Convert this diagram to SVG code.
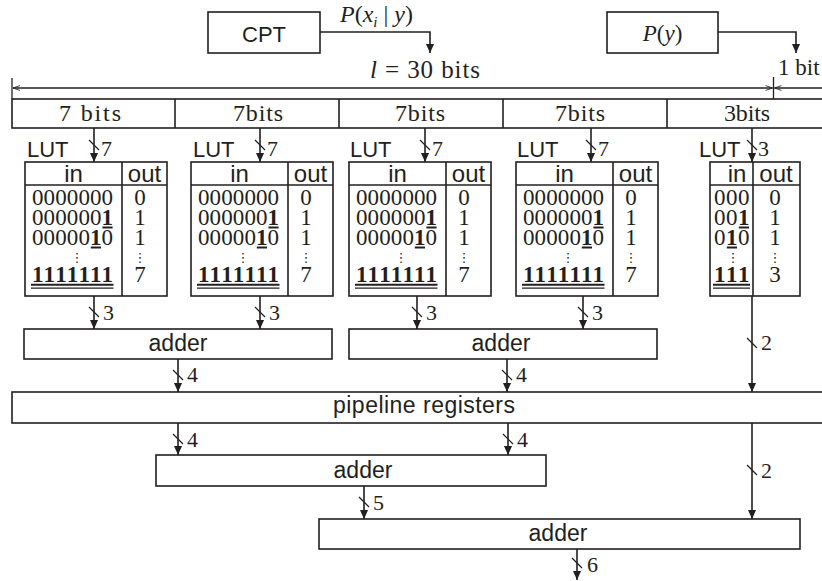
<svg xmlns="http://www.w3.org/2000/svg" xmlns:xlink="http://www.w3.org/1999/xlink" width="822" height="581" viewBox="0 0 822 581">
  <style>
    .bx { fill: #fff; stroke: #231f20; stroke-width: 1.6; }
    .ln { fill: none; stroke: #231f20; stroke-width: 1.6; }
    .thin { fill: none; stroke: #231f20; stroke-width: 1.2; }
    .tick { fill: none; stroke: #231f20; stroke-width: 1.3; }
    .sans { font-family: "Liberation Sans", Arial, Helvetica, sans-serif; fill: #231f20; }
    .serif { font-family: "Liberation Serif", "Times New Roman", serif; fill: #231f20; }
    .mid { text-anchor: middle; }
    .hd { font-size: 24px; }
    .dg { font-size: 23px; }
    .lbl { font-size: 22px; }
    .dots { font-family: "DejaVu Sans", sans-serif; font-size: 13px; fill: #231f20; text-anchor: middle; }
    .ul { stroke: #231f20; stroke-width: 2; }
    .ul2 { stroke: #231f20; stroke-width: 1.2; }
  </style>
  <defs>
    <marker id="arr" viewBox="0 0 10 10" refX="10" refY="5" markerWidth="10" markerHeight="9" markerUnits="userSpaceOnUse" orient="auto">
      <path d="M0,0.5 L10,5 L0,9.5 z" fill="#231f20"/>
    </marker>
    <marker id="open" viewBox="0 0 10 10" refX="10" refY="5" markerWidth="9" markerHeight="7" markerUnits="userSpaceOnUse" orient="auto-start-reverse">
      <path d="M0,1.5 L10,5 L0,8.5" fill="none" stroke="#231f20" stroke-width="1.2"/>
    </marker>

    <!-- 7-bit popcount table: in / out columns -->
    <g id="lut7">
      <rect class="bx" x="0" y="0" width="142" height="134"/>
      <line class="ln" x1="0" y1="23" x2="142" y2="23"/>
      <line class="ln" x1="97" y1="0" x2="97" y2="134"/>
      <text class="sans hd mid" x="48.5" y="20">in</text>
      <text class="sans hd mid" x="119.5" y="20">out</text>
      <text class="serif dg" x="7 18.6 30.2 41.8 53.4 65 76.6" y="43">0000000</text>
      <text class="serif dg" x="7 18.6 30.2 41.8 53.4 65 76.6" y="63">000000<tspan font-weight="bold">1</tspan></text>
      <line class="ul" x1="77.4" y1="65.5" x2="87.6" y2="65.5"/>
      <text class="serif dg" x="7 18.6 30.2 41.8 53.4 65 76.6" y="83">00000<tspan font-weight="bold">1</tspan>0</text>
      <line class="ul" x1="65.8" y1="85.5" x2="76" y2="85.5"/>
      <text class="dots" x="52" y="100">⋮</text>
      <text class="serif dg" font-weight="bold" x="7 18.6 30.2 41.8 53.4 65 76.6" y="120">1111111</text>
      <line class="ul" x1="6" y1="122.8" x2="88.5" y2="122.8"/>
      <line class="ul2" x1="6" y1="126.2" x2="88.5" y2="126.2"/>
      <text class="serif dg mid" x="115" y="43">0</text>
      <text class="serif dg mid" x="115" y="63">1</text>
      <text class="serif dg mid" x="115" y="83">1</text>
      <text class="dots" x="115" y="100">⋮</text>
      <text class="serif dg mid" x="115" y="120">7</text>
    </g>
  </defs>

  <rect width="822" height="581" fill="#fff"/>

  <!-- sources -->
  <g id="cpt">
    <rect class="bx" x="208" y="12" width="112" height="41"/>
    <text class="sans mid" font-size="22" x="264" y="42">CPT</text>
  </g>
  <g id="py">
    <rect class="bx" x="607" y="12" width="111" height="41"/>
    <text class="serif mid" font-size="23" x="662.5" y="41"><tspan font-style="italic">P</tspan>(<tspan font-style="italic">y</tspan>)</text>
  </g>

  <!-- word layout -->
  <g id="word">
    <rect class="bx" x="12" y="99" width="820" height="29"/>
    <line class="ln" x1="175" y1="99" x2="175" y2="128"/>
    <line class="ln" x1="339" y1="99" x2="339" y2="128"/>
    <line class="ln" x1="503" y1="99" x2="503" y2="128"/>
    <line class="ln" x1="667" y1="99" x2="667" y2="128"/>
    <text class="serif mid" font-size="24" x="90" y="121" textLength="62">7 bits</text>
    <text class="serif mid" font-size="24" x="258" y="121" textLength="50">7bits</text>
    <text class="serif mid" font-size="24" x="420" y="121" textLength="50">7bits</text>
    <text class="serif mid" font-size="24" x="580" y="121" textLength="50">7bits</text>
    <text class="serif mid" font-size="24" x="747" y="121" textLength="46">3bits</text>
  </g>

  <!-- lookup tables -->
  <g id="lut1">
    <text class="sans" font-size="22" x="27" y="157">LUT</text>
    <use xlink:href="#lut7" href="#lut7" x="25" y="162"/>
  </g>
  <g id="lut2">
    <text class="sans" font-size="22" x="193" y="157">LUT</text>
    <use xlink:href="#lut7" href="#lut7" x="191" y="162"/>
  </g>
  <g id="lut3">
    <text class="sans" font-size="22" x="350" y="157">LUT</text>
    <use xlink:href="#lut7" href="#lut7" x="349" y="162"/>
  </g>
  <g id="lut4">
    <text class="sans" font-size="22" x="517" y="157">LUT</text>
    <use xlink:href="#lut7" href="#lut7" x="516" y="162"/>
  </g>
  <g id="lut5" transform="translate(710,162)">
    <text class="sans" font-size="22" x="-11" y="-5">LUT</text>
    <rect class="bx" x="0" y="0" width="90" height="134"/>
    <line class="ln" x1="0" y1="23" x2="90" y2="23"/>
    <line class="ln" x1="43" y1="0" x2="43" y2="134"/>
    <text class="sans hd mid" x="27" y="20">in</text>
    <text class="sans hd mid" x="66" y="20">out</text>
    <text class="serif dg" x="4 16 28" y="43">000</text>
    <text class="serif dg" x="4 16 28" y="63">00<tspan font-weight="bold">1</tspan></text>
    <line class="ul" x1="28.8" y1="65.5" x2="39" y2="65.5"/>
    <text class="serif dg" x="4 16 28" y="83">0<tspan font-weight="bold">1</tspan>0</text>
    <line class="ul" x1="16.8" y1="85.5" x2="27" y2="85.5"/>
    <text class="dots" x="23" y="100">⋮</text>
    <text class="serif dg" font-weight="bold" x="4 16 28" y="120">111</text>
    <line class="ul" x1="3" y1="122.8" x2="40" y2="122.8"/>
    <line class="ul2" x1="3" y1="126.2" x2="40" y2="126.2"/>
    <text class="serif dg mid" x="65" y="43">0</text>
    <text class="serif dg mid" x="65" y="63">1</text>
    <text class="serif dg mid" x="65" y="83">1</text>
    <text class="dots" x="65" y="100">⋮</text>
    <text class="serif dg mid" x="65" y="120">3</text>
  </g>

  <!-- adders and register stage -->
  <g id="adder1">
    <rect class="bx" x="24" y="329" width="308" height="30"/>
    <text class="sans mid" font-size="23" x="178" y="351">adder</text>
  </g>
  <g id="adder2">
    <rect class="bx" x="349" y="329" width="308" height="30"/>
    <text class="sans mid" font-size="23" x="501" y="351">adder</text>
  </g>
  <g id="pipeline">
    <rect class="bx" x="12" y="392" width="820" height="31"/>
    <text class="sans mid" font-size="23" x="424" y="413" textLength="182">pipeline registers</text>
  </g>
  <g id="adder3">
    <rect class="bx" x="156" y="455" width="390" height="31"/>
    <text class="sans mid" font-size="23" x="363" y="478">adder</text>
  </g>
  <g id="adder4">
    <rect class="bx" x="319" y="519" width="481" height="30"/>
    <text class="sans mid" font-size="23" x="558" y="541">adder</text>
  </g>

  <!-- connectors -->
  <g id="connectors">
    <!-- word-length dimension -->
    <line class="tick" x1="12" y1="78" x2="12" y2="99"/>
    <line class="tick" x1="773.5" y1="77" x2="773.5" y2="99"/>
    <line class="tick" x1="13" y1="88" x2="772.5" y2="88" marker-start="url(#open)" marker-end="url(#open)"/>
    <line class="tick" x1="822" y1="88" x2="774.5" y2="88" marker-end="url(#open)"/>
    <text class="serif mid" font-size="25" x="425" y="78" textLength="110"><tspan font-style="italic">l</tspan> = 30 bits</text>
    <text class="serif" font-size="23" x="778" y="75">1 bit</text>

    <!-- probability inputs -->
    <path class="ln" d="M320,32 H430 V53" marker-end="url(#arr)"/>
    <text class="serif" font-size="24" x="340" y="22"><tspan font-style="italic">P</tspan>(<tspan font-style="italic">x</tspan><tspan font-style="italic" font-size="15" dy="5">i</tspan><tspan dy="-5"> | </tspan><tspan font-style="italic">y</tspan>)</text>
    <path class="ln" d="M718,32 H796 V53" marker-end="url(#arr)"/>

    <!-- word fields into tables -->
    <path class="ln" d="M94,128 V162" marker-end="url(#arr)"/>
    <path class="ln" d="M260,128 V162" marker-end="url(#arr)"/>
    <path class="ln" d="M425,128 V162" marker-end="url(#arr)"/>
    <path class="ln" d="M591,128 V162" marker-end="url(#arr)"/>
    <path class="ln" d="M752,128 V162" marker-end="url(#arr)"/>
    <path class="thin" d="M89,140 L99,150 M255,140 L265,150 M420,140 L430,150 M586,140 L596,150 M747,140 L757,150"/>
    <text class="serif lbl" x="101" y="156">7</text>
    <text class="serif lbl" x="267" y="156">7</text>
    <text class="serif lbl" x="432" y="156">7</text>
    <text class="serif lbl" x="598" y="156">7</text>
    <text class="serif lbl" x="758" y="156">3</text>

    <!-- table outputs into first adders -->
    <path class="ln" d="M94,296 V329" marker-end="url(#arr)"/>
    <path class="ln" d="M260,296 V329" marker-end="url(#arr)"/>
    <path class="ln" d="M417,296 V329" marker-end="url(#arr)"/>
    <path class="ln" d="M583,296 V329" marker-end="url(#arr)"/>
    <path class="thin" d="M89,307 L99,317 M255,307 L265,317 M412,307 L422,317 M578,307 L588,317"/>
    <text class="serif lbl" x="103" y="320">3</text>
    <text class="serif lbl" x="269" y="320">3</text>
    <text class="serif lbl" x="426" y="320">3</text>
    <text class="serif lbl" x="592" y="320">3</text>

    <!-- 3-bit table straight to registers -->
    <path class="ln" d="M752,296 V392" marker-end="url(#arr)"/>
    <path class="thin" d="M747,338 L757,348"/>
    <text class="serif lbl" x="761" y="350">2</text>

    <!-- adders into registers -->
    <path class="ln" d="M178,359 V392" marker-end="url(#arr)"/>
    <path class="ln" d="M507,359 V392" marker-end="url(#arr)"/>
    <path class="thin" d="M173,370 L183,380 M502,370 L512,380"/>
    <text class="serif lbl" x="187" y="382">4</text>
    <text class="serif lbl" x="516" y="382">4</text>

    <!-- registers into second stage -->
    <path class="ln" d="M178,423 V455" marker-end="url(#arr)"/>
    <path class="ln" d="M508,423 V455" marker-end="url(#arr)"/>
    <path class="thin" d="M173,434 L183,444 M503,434 L513,444"/>
    <text class="serif lbl" x="187" y="447">4</text>
    <text class="serif lbl" x="517" y="447">4</text>

    <path class="ln" d="M752,423 V519" marker-end="url(#arr)"/>
    <path class="thin" d="M747,465 L757,475"/>
    <text class="serif lbl" x="761" y="478">2</text>

    <!-- final stage -->
    <path class="ln" d="M364,486 V519" marker-end="url(#arr)"/>
    <path class="thin" d="M359,497 L369,507"/>
    <text class="serif lbl" x="373" y="510">5</text>

    <path class="ln" d="M577,549 V580" marker-end="url(#arr)"/>
    <path class="thin" d="M572,558 L582,568"/>
    <text class="serif lbl" x="587" y="572">6</text>
  </g>
</svg>
